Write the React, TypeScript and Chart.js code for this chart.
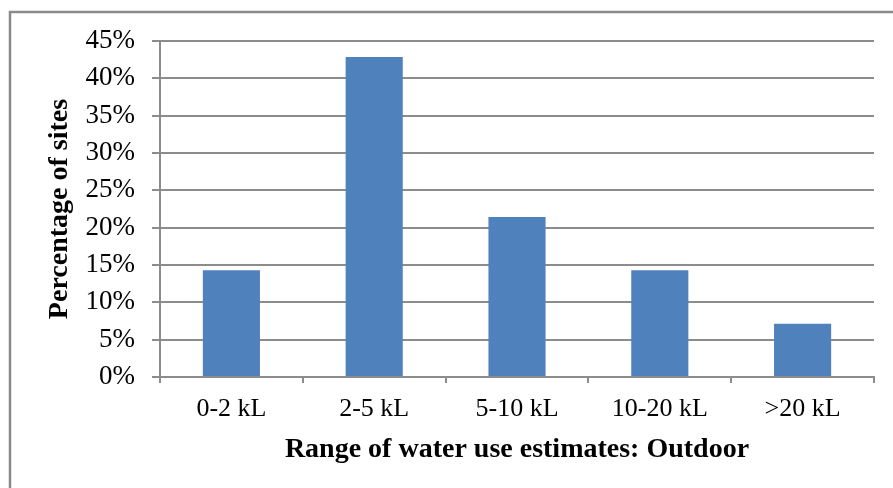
import React, { useEffect, useRef } from "react";
import { Chart, registerables } from "chart.js";

Chart.register(...registerables);

const categories = ["0-2 kL", "2-5 kL", "5-10 kL", "10-20 kL", ">20 kL"];
const percentages = [14.29, 42.86, 21.43, 14.29, 7.14];
const yMax = 45;
const yStep = 5;
const xTitle = "Range of water use estimates: Outdoor";
const yTitle = "Percentage of sites";

const FONT = "'Liberation Serif', 'Times New Roman', serif";
const GRID = "#8c8c8c";

const frame = {
  id: "frame",
  beforeDraw(chart: any) {
    const ctx = chart.ctx;
    ctx.save();
    ctx.fillStyle = "#ffffff";
    ctx.fillRect(0, 0, chart.width, chart.height);
    ctx.strokeStyle = "#8a8a8a";
    ctx.lineWidth = 2.5;
    ctx.strokeRect(10, 12, chart.width + 20, chart.height + 20);
    ctx.restore();
  },
};

export default function App() {
  const ref = useRef<HTMLCanvasElement | null>(null);
  useEffect(() => {
    if (!ref.current) return;
    const chart = new Chart(ref.current, {
      type: "bar",
      data: {
        labels: categories,
        datasets: [
          {
            data: percentages,
            backgroundColor: "#4f81bd",
            barPercentage: 0.4,
            categoryPercentage: 1,
          },
        ],
      },
      plugins: [frame],
      options: {
        responsive: false,
        animation: false,
        devicePixelRatio: 1,
        layout: { padding: { top: 41, right: 19, bottom: 0, left: 0 } },
        plugins: { legend: { display: false }, tooltip: { enabled: false } },
        scales: {
          x: {
            afterFit: (s: any) => {
              s.height = 111;
            },
            grid: {
              display: true,
              drawOnChartArea: false,
              drawTicks: true,
              tickLength: 6,
              offset: true,
              color: GRID,
              lineWidth: 2,
            },
            border: { display: true, color: GRID, width: 2 },
            ticks: {
              color: "#000",
              padding: 11,
              maxRotation: 0,
              font: { family: FONT, size: 26 },
            },
            title: {
              display: true,
              text: xTitle,
              color: "#000",
              font: { family: FONT, size: 28, weight: "bold" },
              padding: { top: 0, bottom: 21 },
            },
          },
          y: {
            min: 0,
            max: yMax,
            afterFit: (s: any) => {
              s.width = 160;
            },
            grid: {
              color: GRID,
              lineWidth: 2,
              drawTicks: true,
              tickLength: 8,
            },
            border: { display: true, color: GRID, width: 2 },
            ticks: {
              stepSize: yStep,
              color: "#000",
              padding: 17,
              font: { family: FONT, size: 27 },
              callback: (v: any) => `${v}%`,
            },
            title: {
              display: true,
              text: yTitle,
              color: "#000",
              font: { family: FONT, size: 28, weight: "bold" },
              padding: { top: 43, bottom: 0 },
            },
          },
        },
      },
    });
    return () => chart.destroy();
  }, []);
  return (
    <div style={{ position: "fixed", left: 0, top: 0, width: 893, height: 488, background: "#fff" }}>
      <canvas ref={ref} width={893} height={488} style={{ display: "block" }} />
    </div>
  );
}
